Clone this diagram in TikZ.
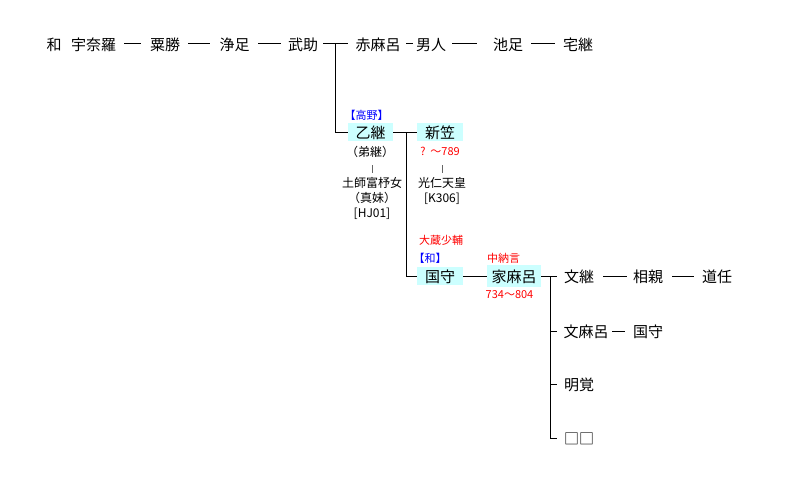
\documentclass[tikz,border=0pt]{standalone}
\usepackage{fontspec}
\setmainfont{Noto Sans CJK JP}
\definecolor{boxc}{RGB}{204,255,255}
\definecolor{lblue}{RGB}{0,0,255}
\definecolor{lred}{RGB}{255,0,0}
\begin{document}
\begin{tikzpicture}[x=1pt,y=-1pt,
  every node/.style={inner sep=0pt,outer sep=0pt},
  nm/.style={font=\fontsize{15pt}{15pt}\selectfont,text height=13.8pt,text depth=1.2pt},
  sm/.style={font=\fontsize{12pt}{12pt}\selectfont,text height=11pt,text depth=1pt},
  rd/.style={font=\fontsize{11pt}{11pt}\selectfont,text=lred,text height=10.2pt,text depth=1pt},
  bl/.style={font=\fontsize{11pt}{11pt}\selectfont,text=lblue,text height=10.2pt,text depth=1pt},
  hl/.style={nm,fill=boxc,minimum width=46pt,minimum height=18pt},
  ln/.style={line width=1pt}]
\useasboundingbox[fill=white] (0,0) rectangle (812,495);
% top row
\node[nm] (wa) at (54,44) {和};
\node[nm] (unara) at (93.5,44) {宇奈羅};
\node[nm] (awa) at (165,44) {粟勝};
\node[nm] (kiyo) at (234.5,44) {浄足};
\node[nm] (take) at (303,44) {武助};
\node[nm] (aka) at (378,44) {赤麻呂};
\node[nm] (oto) at (431,44) {男人};
\node[nm] (ike) at (508,44) {池足};
\node[nm] (yake) at (578,44) {宅継};
\draw[ln] ([xshift=8pt]unara.east) -- ([xshift=-9pt]awa.west);
\draw[ln] ([xshift=8pt]awa.east) -- ([xshift=-9.5pt]kiyo.west);
\draw[ln] ([xshift=8.5pt]kiyo.east) -- ([xshift=-7pt]take.west);
\draw[ln] ([xshift=5pt]take.east) -- ([xshift=-7.5pt]aka.west);
\draw[ln] ([xshift=5.5pt]aka.east) -- ([xshift=-3pt]oto.west);
\draw[ln] ([xshift=6pt]oto.east) -- ([xshift=-16pt]ike.west);
\draw[ln] ([xshift=8pt]ike.east) -- ([xshift=-8pt]yake.west);
% otsutsugu
\coordinate (j1) at (335,44);
\node[hl,minimum width=45pt] (otsu) at (370.5,132) {乙継};
\node[bl] (takano) at (366.5,115) {【高野】};
\draw[ln] (j1) |- (otsu.west);
\node[sm] (otsu2) at (370,151) {（弟継）};
\node[sm] (haji) at (372,182) {土師富杼女};
\node[sm] (haji2) at (372,197) {（真妹）};
\node[sm] (haji3) at (372,212) {[HJ01]};
\draw[line width=0.6pt,black!60] ([yshift=-14pt]otsu2.center -| haji.center) -- ([yshift=9pt]haji.center);
% niigasa
\node[hl] (nii) at (440,132) {新笠};
\node[rd] (niiy) at (440,151) {?\ \ ～789};
\node[sm] (kon) at (442,182) {光仁天皇};
\node[sm] (kon2) at (442,197) {[K306]};
\draw[line width=0.6pt,black!60] ([yshift=-14pt]niiy.center -| kon.center) -- ([yshift=9pt]kon.center);
\draw[ln] (otsu.east) -- (nii.west);
\coordinate (j2) at (406,132);
% kunimori
\node[hl] (kuni) at (440,276) {国守};
\node[rd] (okura) at (441,240) {大蔵少輔};
\node[bl] (wa2) at (430,258) {【和】};
\draw[ln] (j2) |- (kuni.west);
% iemaro
\node[hl,minimum width=54pt,minimum height=22pt] (ie) at (514,276) {家麻呂};
\node[rd] (chu) at (503.5,258) {中納言};
\node[rd] (iey) at (509.5,294) {734～804};
\draw[ln] (kuni.east) -- (ie.west);
% children
\node[nm] (fumi) at (579,276) {文継};
\node[nm] (soshin) at (648,276) {相親};
\node[nm] (dou) at (717,276) {道任};
\node[nm] (fumimaro) at (586,331) {文麻呂};
\node[nm] (kuni2) at (648,331) {国守};
\node[nm] (mei) at (579,384) {明覚};
\node[nm] (sq) at (579,438) {□□};
\coordinate (j3) at (550,276);
\draw[ln] (ie.east) -- ([xshift=-7pt]fumi.west);
\draw[ln] (j3) |- ([xshift=-7pt]sq.west);
\draw[ln] (j3 |- fumimaro) -- ([xshift=-6.5pt]fumimaro.west);
\draw[ln] (j3 |- mei) -- ([xshift=-7pt]mei.west);
\draw[ln] ([xshift=9pt]fumi.east) -- ([xshift=-6pt]soshin.west);
\draw[ln] ([xshift=9pt]soshin.east) -- ([xshift=-8pt]dou.west);
\draw[ln] ([xshift=3.5pt]fumimaro.east) -- ([xshift=-8pt]kuni2.west);
\end{tikzpicture}
\end{document}
